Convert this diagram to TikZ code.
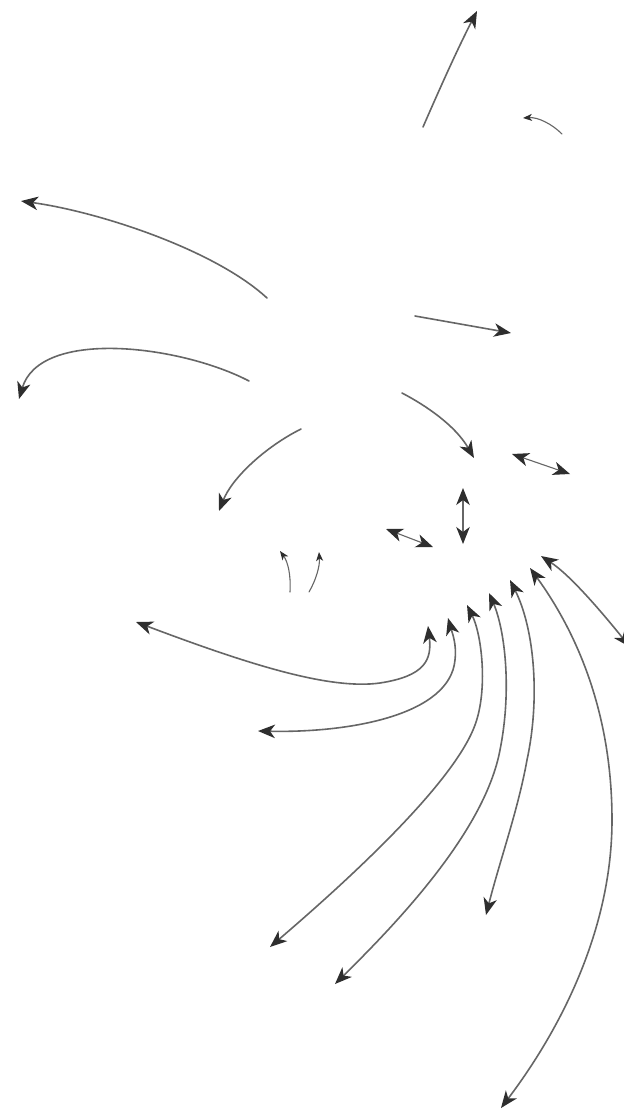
\documentclass[tikz,border=0pt]{standalone}
\usetikzlibrary{arrows.meta}
\begin{document}
\begin{tikzpicture}[x=1pt,y=-1pt,
  flow/.style={draw=black!60,line width=1.6pt,line cap=round},
  thin flow/.style={draw=black!60,line width=1.1pt,line cap=round},
  tip/.tip={Stealth[length=17pt,width=13.5pt,inset=5pt,color=black!82]},
  small tip/.tip={Stealth[length=9pt,width=7pt,inset=2.5pt,color=black!82]},
  one/.style={-{tip}},
  two/.style={{tip}-{tip}},
  sone/.style={-{small tip}}]
\useasboundingbox[fill=white] (0,0) rectangle (624,1112);
% coordinates
\coordinate (t1s) at (423,127); \coordinate (t1e) at (477,11);
\coordinate (t2s) at (562,134); \coordinate (t2e) at (523,118);
\coordinate (l1s) at (267,298); \coordinate (l1e) at (21,201);
\coordinate (l2s) at (249,381); \coordinate (l2e) at (19,399);
\coordinate (r1s) at (415,316); \coordinate (r1e) at (511,333);
\coordinate (r2s) at (402,393); \coordinate (r2e) at (474,458);
\coordinate (l3s) at (301,429); \coordinate (l3e) at (219,511);
\coordinate (d1a) at (512,454); \coordinate (d1b) at (570,474);
\coordinate (d2a) at (463,488); \coordinate (d2b) at (463,544);
\coordinate (d3a) at (386,529); \coordinate (d3b) at (433,547);
\coordinate (s1s) at (290,592); \coordinate (s1e) at (280,551);
\coordinate (s2s) at (309,592); \coordinate (s2e) at (319,552);
\coordinate (aA) at (428,626); \coordinate (aB) at (136,622);
\coordinate (bA) at (448,618); \coordinate (bB) at (258,731);
\coordinate (cA) at (467,605); \coordinate (cB) at (270,947);
\coordinate (dA) at (489,593); \coordinate (dB) at (335,984);
\coordinate (eA) at (510,580); \coordinate (eB) at (486,915);
\coordinate (fA) at (530,568); \coordinate (fB) at (501,1108);
\coordinate (gA) at (541,556); \coordinate (gB) at (630,647);
% top
\draw[flow,one] (t1s) .. controls (440,88) and (457,50) .. (t1e);
\draw[thin flow,sone] (t2s) .. controls (552,124) and (538,117) .. (t2e);
% left
\draw[flow,one] (l1s) .. controls (215,250) and (100,212) .. (l1e);
\draw[flow,one] (l2s) .. controls (180,345) and (40,328) .. (l2e);
\draw[flow,one] (l3s) .. controls (265,447) and (232,478) .. (l3e);
% right
\draw[flow,one] (r1s) -- (r1e);
\draw[flow,one] (r2s) .. controls (425,405) and (455,425) .. (r2e);
% double arrows
\draw[thin flow,two] (d1a) -- (d1b);
\draw[thin flow,two] (d2a) -- (d2b);
\draw[thin flow,two] (d3a) -- (d3b);
% small ones
\draw[thin flow,sone] (s1s) .. controls (291,575) and (288,562) .. (s1e);
\draw[thin flow,sone] (s2s) .. controls (316,580) and (320,566) .. (s2e);
% bundle
\draw[flow,two] (aA) .. controls (432,660) and (425,676) .. (380,683)
  .. controls (330,690) and (250,665) .. (aB);
\draw[flow,two] (bA) .. controls (452,632) and (457,645) .. (455,660)
  .. controls (450,715) and (350,733) .. (bB);
\draw[flow,two] (cA) .. controls (482,635) and (488,690) .. (475,725)
  .. controls (455,780) and (360,870) .. (cB);
\draw[flow,two] (dA) .. controls (505,630) and (512,690) .. (500,750)
  .. controls (485,830) and (400,920) .. (dB);
\draw[flow,two] (eA) .. controls (535,630) and (540,700) .. (527,760)
  .. controls (518,810) and (500,860) .. (eB);
\draw[flow,two] (fA) .. controls (575,630) and (612,710) .. (612,820)
  .. controls (612,930) and (560,1030) .. (fB);
\draw[flow,two] (gA) .. controls (570,575) and (600,610) .. (gB);
\end{tikzpicture}
\end{document}
